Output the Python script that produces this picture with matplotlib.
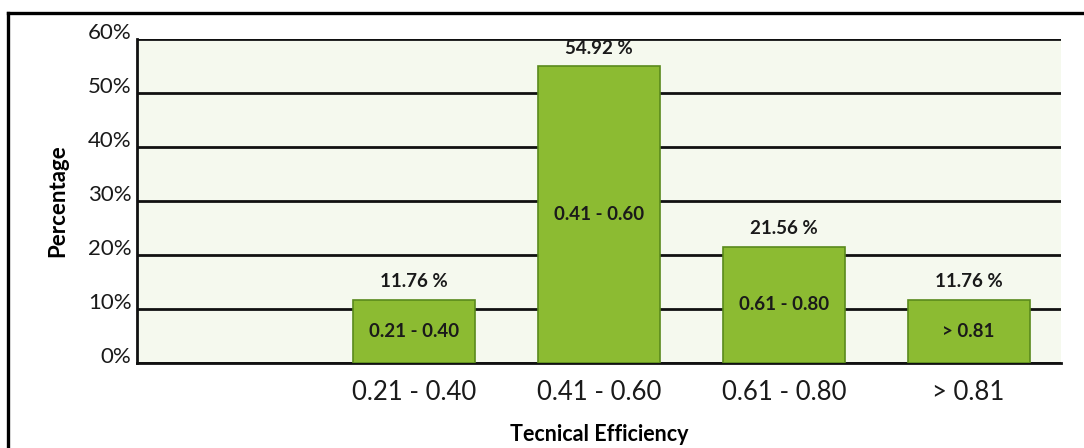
import matplotlib.pyplot as plt
from matplotlib.lines import Line2D
from matplotlib.transforms import ScaledTranslation

categories = ['', '0.21 - 0.40', '0.41 - 0.60', '0.61 - 0.80', '> 0.81']
shares = [None, 11.76, 54.92, 21.56, 11.76]
value_labels = ['', '11.76 %', '54.92 %', '21.56 %', '11.76 %']
y_ticks = [0, 10, 20, 30, 40, 50, 60]

plt.rcParams['font.family'] = ['Lato', 'DejaVu Sans']


def plot():
    fig = plt.figure(figsize=(10.84, 4.48), dpi=100)
    ax = fig.add_axes([0.1264, 0.1897, 0.8524, 0.7232])
    ax.set_facecolor('#f5f9ee')

    xs = [i for i, v in enumerate(shares) if v is not None]
    heights = [shares[i] for i in xs]
    bars = ax.bar(xs, heights, width=0.66, color='#8cbb32', edgecolor='#5a8a1c',
                  linewidth=1.2, zorder=3)

    for x, h, bar in zip(xs, heights, bars):
        ax.annotate(value_labels[x], (x, h), xytext=(0, 7), textcoords='offset points',
                    ha='center', va='bottom', fontsize=13.5, fontweight='bold', color='#1a1a1a')
        ax.text(x, h / 2, categories[x], ha='center', va='center', fontsize=13.5,
                fontweight='bold', color='#1a1a1a', zorder=4)

    ax.set_xlim(-0.5, 4.5)
    ax.set_ylim(0, 60)
    ax.set_xticks(range(len(categories)))
    ax.set_xticklabels(categories, fontsize=18.5, color='#1a1a1a')
    ax.set_yticks(y_ticks)
    ax.set_yticklabels([f'{t}%' for t in y_ticks], fontsize=16, color='#1a1a1a')
    ax.tick_params(length=0, pad=4)
    ax.tick_params(axis='x', pad=12)
    for lbl in ax.get_yticklabels():
        lbl.set_transform(lbl.get_transform() + ScaledTranslation(0, 6 / 72, fig.dpi_scale_trans))

    ax.yaxis.grid(True, color='#111111', linewidth=2, zorder=1)
    ax.set_axisbelow(True)
    for side in ['top', 'right']:
        ax.spines[side].set_visible(False)
    for side in ['left', 'bottom']:
        ax.spines[side].set_linewidth(2)
        ax.spines[side].set_color('#111111')

    ax.set_ylabel('Percentage', fontsize=16, fontweight='bold', labelpad=14)
    ax.set_xlabel('Tecnical Efficiency', fontsize=15.5, fontweight='bold', labelpad=14)

    # outer frame (top and left edges only)
    fig.add_artist(Line2D([0.0074, 1.0], [0.971, 0.971], transform=fig.transFigure,
                          color='black', linewidth=2.4))
    fig.add_artist(Line2D([0.0074, 0.0074], [0.0, 0.971], transform=fig.transFigure,
                          color='black', linewidth=2.4))

    fig.savefig('out.png', dpi=100)


def main():
    plot()


if __name__ == '__main__':
    main()
